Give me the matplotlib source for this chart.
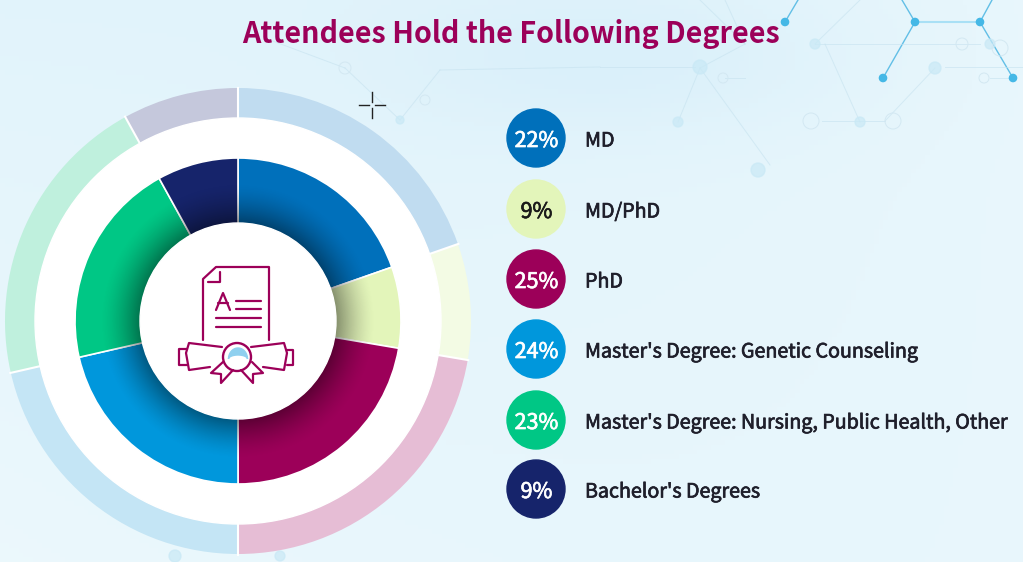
import numpy as np
import matplotlib
matplotlib.use('Agg')
import matplotlib.pyplot as plt
import matplotlib.patheffects as pe
from matplotlib.patches import Circle, Polygon

plt.rcParams['font.family'] = ['Noto Sans CJK SC', 'Noto Sans', 'DejaVu Sans']

title = "Attendees Hold the Following Degrees"
degrees = ["MD", "MD/PhD", "PhD", "Master's Degree: Genetic Counseling",
           "Master's Degree: Nursing, Public Health, Other", "Bachelor's Degrees"]
percents = [22, 9, 25, 24, 23, 9]
colors = ['#0070bb', '#e3f5ba', '#9c0059', '#0097dc', '#00c785', '#16246b']
pale_colors = ['#c0dcf0', '#f3fbe4', '#e6bdd5', '#c4e5f5', '#bff0dd', '#c5c8dc']
percent_colors = ['white', '#1a1a1a', 'white', 'white', 'white', 'white']

W, H = 1023, 562
fig = plt.figure(figsize=(W / 100, H / 100), dpi=100)
ax = fig.add_axes([0, 0, 1, 1])


def fy(y):
    # picture pixels count from the top, the axes from the bottom
    return H - y


def semibold(col):
    return [pe.withStroke(linewidth=0.5, foreground=col)]


# background wash
yy, xx = np.mgrid[0:1:120j, 0:1:220j]
wash = 0.5 + 0.3 * yy * (1 - xx) + 0.25 * (xx - 0.1) ** 2 - 0.3 * np.exp(-((xx - 0.6) ** 2 / 0.05 + (yy - 0.1) ** 2 / 0.02))
wash = np.clip(wash, 0, 1)
c0 = np.array([0.82, 0.925, 0.975])
c1 = np.array([0.95, 0.985, 0.995])
bg = c0 + (c1 - c0) * wash[..., None]
ax.imshow(bg, extent=(0, W, 0, H), origin='upper', aspect='auto', zorder=0)

# hexagon network in the background
strong = [((785, 22), (798, 0)), ((915, 22), (902, 0)), ((915, 22), (883, 78)),
          ((980, 22), (1013, 78)), ((980, 22), (992, 0))]
for a, b in strong:
    ax.plot([a[0], b[0]], [fy(a[1]), fy(b[1])], color='#62bfe6', lw=1, zorder=0.5)
ax.plot([915, 980], [fy(22), fy(22)], color='#a9e0f5', lw=1.5, zorder=0.5)
faint = [((600, 67), (695, 67)), ((945, 67), (1023, 67)), ((725, 78), (745, 78)), ((990, 78), (1013, 78)),
         ((700, 68), (770, 165)), ((700, 68), (678, 122)), ((825, 44), (860, 122)), ((815, 44), (980, 44)),
         ((822, 121), (885, 121)), ((885, 121), (935, 68)), ((700, 0), (745, 44)), ((745, 44), (700, 68)),
         ((270, 40), (345, 68)), ((345, 68), (400, 120)), ((400, 120), (440, 70)), ((440, 70), (600, 67)),
         ((725, 0), (745, 44)), ((860, 0), (815, 44))]
for a, b in faint:
    ax.plot([a[0], b[0]], [fy(a[1]), fy(b[1])], color='#c6e2ef', lw=0.7, alpha=0.6, zorder=0.5)
for x, y in [(785, 22), (915, 22), (980, 22), (883, 78), (1013, 78)]:
    ax.add_patch(Circle((x, fy(y)), 3.6, color='#45b8e6', zorder=0.6))
for x, y, r in [(700, 67, 7), (815, 44, 5), (678, 122, 5), (758, 170, 7), (860, 122, 5), (935, 68, 6),
                (175, 556, 6), (280, 556, 5), (990, 44, 5), (400, 120, 4), (530, 197, 6)]:
    ax.add_patch(Circle((x, fy(y)), r, color='#c9e9f6', alpha=0.7, zorder=0.6))
for x, y, r in [(811, 121, 8), (893, 121, 8), (984, 78, 5), (723, 78, 5), (345, 68, 6), (962, 44, 6),
                (425, 100, 5), (1000, 48, 8)]:
    ax.add_patch(Circle((x, fy(y)), r, fill=False, ec='#d3e8f2', lw=0.7, zorder=0.6))

# rings, from the same percentages
center = (238, fy(321))
outer_wedges, _ = ax.pie(percents, colors=pale_colors, radius=233, center=center, startangle=90,
                         counterclock=False, frame=True, wedgeprops=dict(linewidth=0))
for w in outer_wedges:
    a = np.radians(w.theta1)
    ax.plot([center[0] + 200 * np.cos(a), center[0] + 233.5 * np.cos(a)],
            [center[1] + 200 * np.sin(a), center[1] + 233.5 * np.sin(a)], color='white', lw=1.5, zorder=1.5)
ax.add_patch(Circle(center, 203, color='white', zorder=2))
wedges, _ = ax.pie(percents, colors=colors, radius=163, center=center, startangle=90, counterclock=False,
                   frame=True, wedgeprops=dict(edgecolor='white', linewidth=1.2))
for w in wedges:
    w.set_zorder(3)

# shadow under the middle disc
n = 400
ys, xs = np.mgrid[-170:170:n * 1j, -170:170:n * 1j]
r = np.hypot(xs, ys)
shade = np.zeros((n, n, 4))
shade[..., 3] = 0.42 * np.clip((138 - r) / 40, 0, 1) ** 1.5
im = ax.imshow(shade, extent=(center[0] - 170, center[0] + 170, center[1] - 170, center[1] + 170),
               aspect='auto', zorder=3.5)
im.set_clip_path(Circle(center, 163, transform=ax.transData))
ax.add_patch(Circle(center, 98, color='white', zorder=4))

# certificate icon, traced in picture pixels
ICON = '#9c0059'
icon_lines = [
    [(203, 340), (203, 279), (216, 267), (269, 267), (269, 340)],
    [(220, 272), (220, 282), (208, 282)],
    [(216, 310), (223, 293), (230, 310)],
    [(218, 303), (228, 303)],
    [(236, 301), (261, 301)], [(236, 309), (261, 309)],
    [(216, 318), (261, 318)], [(216, 327), (261, 327)],
    [(222, 347), (189, 343), (186, 353), (189, 370), (210, 367)],
    [(187, 349), (179, 349), (179, 365), (187, 365)],
    [(251, 347), (284, 343), (287, 353), (284, 370), (263, 367)],
    [(287, 350), (293, 350), (293, 365), (287, 365)],
    [(223, 362), (211, 373), (221, 374), (221, 383), (233, 370)],
    [(252, 362), (263, 373), (253, 374), (253, 383), (241, 370)],
]
for pts in icon_lines:
    ax.plot([p[0] for p in pts], [fy(p[1]) for p in pts], color=ICON, lw=1.6,
            solid_capstyle='round', solid_joinstyle='round', zorder=5)
ax.add_patch(Circle((237, fy(357)), 14, fill=False, ec=ICON, lw=1.7, zorder=5))
t = np.linspace(np.pi, 0, 30)
outer = [(238 + 9.5 * np.cos(a), fy(359) + 11 * np.sin(a)) for a in t]
inner = [(238 + 9.5 * np.cos(a), fy(359) + 4 * np.sin(a)) for a in t[::-1]]
ax.add_patch(Polygon(outer + inner, color='#8fd0ef', zorder=5))

# legend
legend_y = [138, 209, 279, 349, 420, 489]
for name, pct, col, tcol, y in zip(degrees, percents, colors, percent_colors, legend_y):
    ax.add_patch(Circle((536, fy(y)), 29, color=col, zorder=3))
    ax.text(536.5, fy(y) - 0.5, f"{pct}%", ha='center', va='center_baseline', color=tcol, fontsize=15.5,
            zorder=4, path_effects=semibold(tcol))
    ax.text(585, fy(y) - 0.5, name, ha='left', va='center_baseline', color='#1f1f2b', fontsize=14.15,
            zorder=4, path_effects=semibold('#1f1f2b'))

ax.text(511, fy(31), title, ha='center', va='center_baseline', color='#9c0059', fontsize=20.6,
        fontweight='bold', zorder=4)

# cursor mark
ax.plot([359, 369], [fy(105), fy(105)], color='#222222', lw=1, zorder=5)
ax.plot([375, 385], [fy(105), fy(105)], color='#222222', lw=1, zorder=5)
ax.plot([372, 372], [fy(92), fy(102)], color='#222222', lw=1, zorder=5)
ax.plot([372, 372], [fy(108), fy(118)], color='#222222', lw=1, zorder=5)

ax.set_xlim(0, W)
ax.set_ylim(0, H)
ax.set_aspect('auto')
ax.axis('off')
fig.savefig('out.png', dpi=100)
